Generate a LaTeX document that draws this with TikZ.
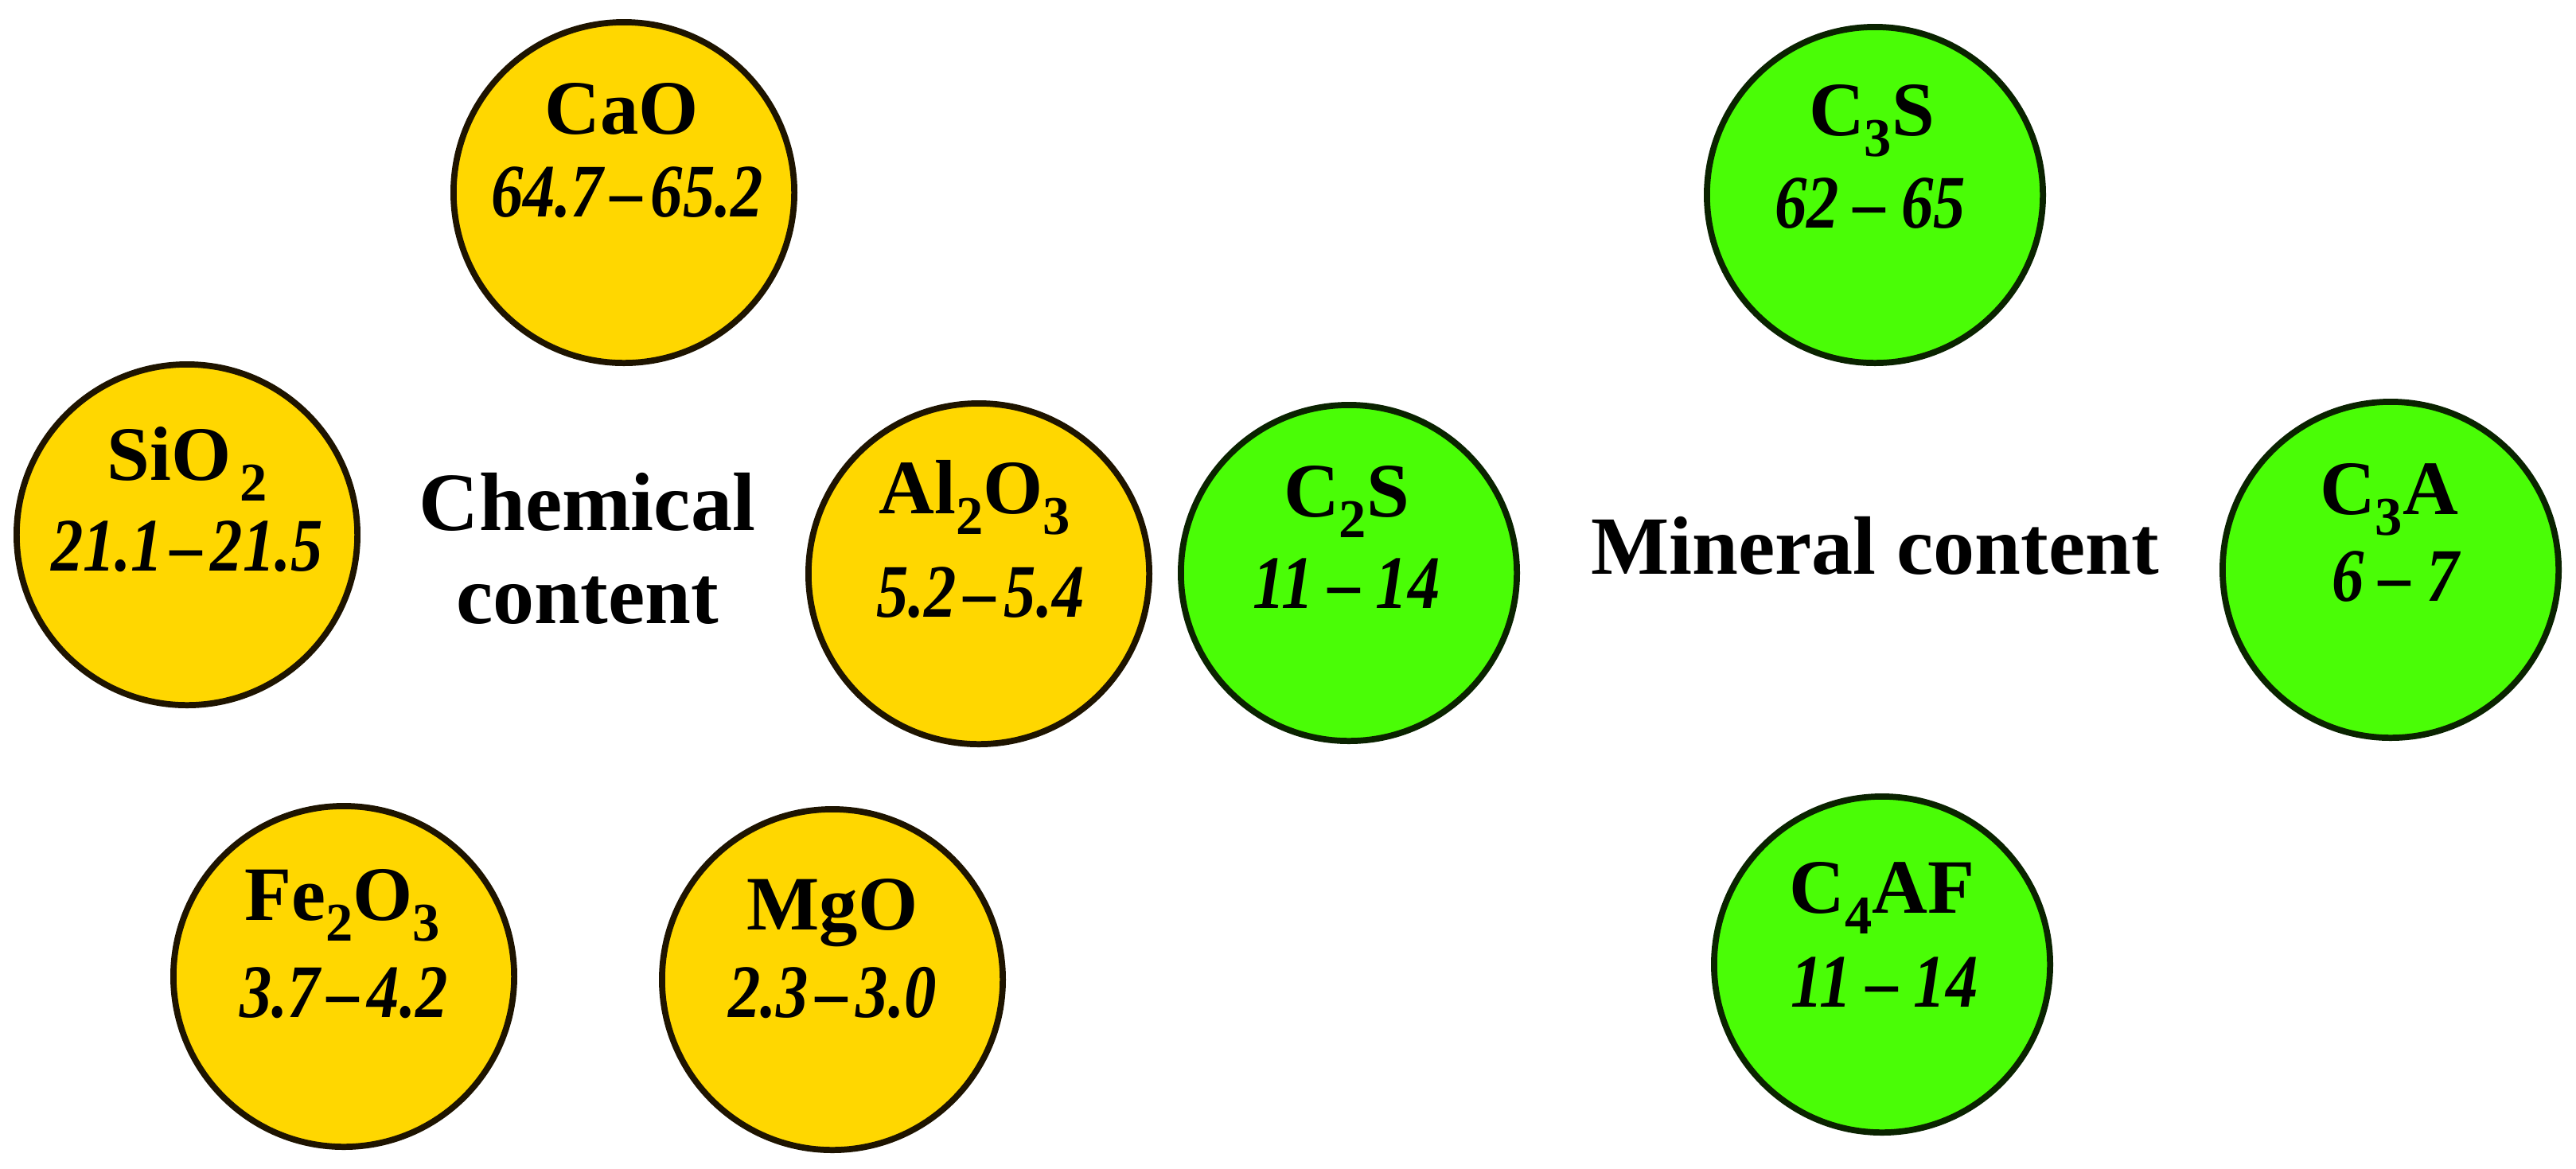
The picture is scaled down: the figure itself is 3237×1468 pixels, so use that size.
\documentclass[tikz,border=0pt]{standalone}
\usepackage{fontspec}
\setmainfont{Liberation Serif}
\newfontfamily\numfont[FakeStretch=0.85,Ligatures=TeX]{Liberation Serif}
\definecolor{gold}{RGB}{255,215,0}
\definecolor{lime}{RGB}{74,253,6}
\definecolor{edgeY}{RGB}{30,20,0}
\definecolor{edgeG}{RGB}{10,35,0}
\newcommand\dn[1]{\raisebox{-0.27em}[0pt][0pt]{\fontsize{19.5}{19.5}\selectfont #1}}
\newcommand\rg{\kern0.1em–\kern0.1em}
\newcommand\rgw{\kern0.2em–\kern0.2em}
\begin{document}
\begin{tikzpicture}[x=0.01cm,y=-0.01cm,
  yel/.style={circle, draw=edgeY, line width=2.2pt, fill=gold, inner sep=0pt, minimum size=4.28cm},
  grn/.style={circle, draw=edgeG, line width=2.2pt, fill=lime, inner sep=0pt, minimum size=4.22cm},
  lab/.style={anchor=base, font=\fontsize{27.5}{30}\selectfont\bfseries, inner sep=0pt},
  num/.style={anchor=base, font=\numfont\fontsize{27}{30}\selectfont\bfseries\itshape, inner sep=0pt},
  ttl/.style={anchor=base, font=\fontsize{29.6}{34}\selectfont\bfseries, inner sep=0pt}]
\useasboundingbox (0,0) rectangle (3237,1468);
\fill[white] (0,0) rectangle (3237,1468);
% chemical content
\node[yel] (cao) at (784,242) {};
\node[lab] (caol) at (781,168) {CaO};
\node[num] (caon) at (788,272) {64.7\rg65.2};
\node[yel] (sio) at (235,672) {};
\node[lab] (siol) at (235,603) {SiO\kern3pt\dn{2}};
\node[num] (sion) at (235,717) {21.1\rg21.5};
\node[yel] (alo) at (1230,721) {};
\node[lab] (alol) at (1225,645) {Al\dn{2}O\dn{3}};
\node[num] (alon) at (1232,775) {5.2\rg5.4};
\node[yel] (feo) at (432,1227) {};
\node[lab] (feol) at (430,1156) {Fe\dn{2}O\dn{3}};
\node[num] (feon) at (432,1278) {3.7\rg4.2};
\node[yel] (mgo) at (1046,1231) {};
\node[lab] (mgol) at (1046,1168) {MgO};
\node[num] (mgon) at (1046,1278) {2.3\rg3.0};
\node[ttl] (chem1) at (738,666) {Chemical};
\node[ttl] (chem2) at (738,783) {content};
% mineral content
\node[grn] (c2s) at (1695,720) {};
\node[lab] (c2sl) at (1692,649) {C\dn{2}S};
\node[num] (c2sn) at (1692,764) {11\rgw14};
\node[grn] (c3s) at (2356,245) {};
\node[lab] (c3sl) at (2352,170) {C\dn{3}S};
\node[num] (c3sn) at (2350,286) {62\rgw65};
\node[grn] (c3a) at (3004,716) {};
\node[lab] (c3al) at (3002,646) {C\dn{3}A};
\node[num] (c3an) at (3010,755) {6\rgw7};
\node[grn] (c4af) at (2365,1212) {};
\node[lab] (c4afl) at (2365,1147) {C\dn{4}AF};
\node[num] (c4afn) at (2368,1265) {11\rgw14};
\node[ttl] (mine) at (2356,721) {Mineral content};
\end{tikzpicture}
\end{document}
